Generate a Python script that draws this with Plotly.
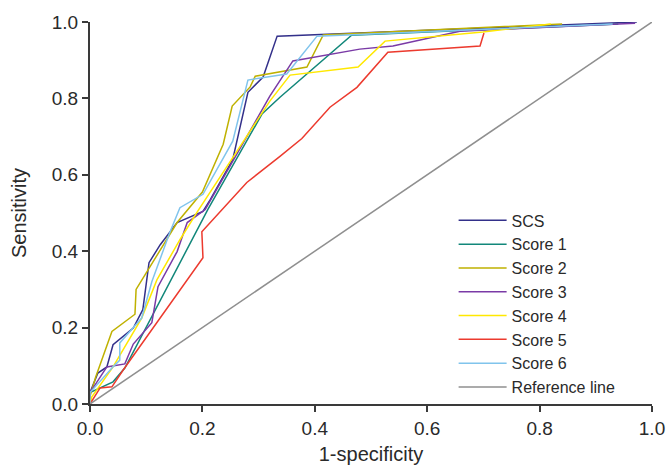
import plotly.graph_objects as go

names = ["SCS", "Score 1", "Score 2", "Score 3", "Score 4", "Score 5", "Score 6", "Reference line"]

scs_x = [0, 0, 0.014, 0.030, 0.041, 0.059, 0.077, 0.094, 0.105, 0.125, 0.155, 0.201, 0.214, 0.254, 0.281, 0.308, 0.333, 0.973]
scs_y = [0, 0.03, 0.081, 0.097, 0.155, 0.178, 0.199, 0.247, 0.370, 0.417, 0.475, 0.504, 0.535, 0.640, 0.816, 0.856, 0.963, 1.0]

s1_x = [0, 0, 0.041, 0.062, 0.21, 0.306, 0.338, 0.465, 0.94]
s1_y = [0, 0.03, 0.058, 0.094, 0.51, 0.759, 0.803, 0.965, 0.995]

s2_x = [0, 0, 0.01, 0.039, 0.08, 0.082, 0.155, 0.20, 0.237, 0.253, 0.285, 0.294, 0.386, 0.415, 0.84]
s2_y = [0, 0.02, 0.07, 0.19, 0.235, 0.30, 0.475, 0.555, 0.68, 0.78, 0.83, 0.858, 0.882, 0.966, 0.995]

s3_x = [0, 0, 0.030, 0.062, 0.077, 0.110, 0.121, 0.155, 0.173, 0.205, 0.320, 0.361, 0.480, 0.539, 0.658, 0.97]
s3_y = [0, 0.03, 0.097, 0.105, 0.157, 0.213, 0.307, 0.399, 0.475, 0.509, 0.806, 0.898, 0.929, 0.937, 0.976, 0.997]

s4_x = [0, 0.003, 0.041, 0.092, 0.119, 0.160, 0.190, 0.320, 0.356, 0.477, 0.525, 0.699, 0.82]
s4_y = [0, 0.018, 0.097, 0.225, 0.325, 0.430, 0.501, 0.793, 0.861, 0.882, 0.950, 0.974, 0.995]

s5_x = [0, 0.018, 0.039, 0.059, 0.201, 0.199, 0.279, 0.320, 0.338, 0.377, 0.427, 0.475, 0.530, 0.694, 0.701]
s5_y = [0, 0.042, 0.045, 0.089, 0.383, 0.451, 0.580, 0.627, 0.648, 0.695, 0.777, 0.829, 0.921, 0.937, 0.971]

s6_x = [0, 0, 0.039, 0.053, 0.053, 0.092, 0.110, 0.142, 0.160, 0.201, 0.254, 0.281, 0.350, 0.404, 0.93]
s6_y = [0, 0.03, 0.094, 0.115, 0.160, 0.225, 0.320, 0.449, 0.514, 0.549, 0.688, 0.848, 0.864, 0.963, 0.995]

ref_x = [0, 1]
ref_y = [0, 1]

tick_vals = [0, 0.2, 0.4, 0.6, 0.8, 1.0]
tick_text = ["0.0", "0.2", "0.4", "0.6", "0.8", "1.0"]

colors = ["#33308a", "#12877a", "#bfb100", "#7a3aa6", "#ffe800", "#ec3a2e", "#80c4ec", "#8f8f8f"]
xs = [scs_x, s1_x, s2_x, s3_x, s4_x, s5_x, s6_x, ref_x]
ys = [scs_y, s1_y, s2_y, s3_y, s4_y, s5_y, s6_y, ref_y]

fig = go.Figure()
for n, c, x, y in zip(names, colors, xs, ys):
    fig.add_trace(go.Scatter(x=x, y=y, mode="lines", name=n,
                             line=dict(color=c, width=1.5), cliponaxis=False))

font = "Liberation Sans, Arial, sans-serif"
axis_common = dict(
    range=[0, 1], tickvals=tick_vals, ticktext=tick_text, automargin=False,
    showgrid=False, zeroline=False, showline=True, linecolor="#3a3a3a", linewidth=2,
    ticks="outside", ticklen=6, tickwidth=1.5, tickcolor="#3a3a3a",
    tickfont=dict(family=font, size=19, color="#2a2a2a"),
)
fig.update_layout(
    width=667, height=465,
    margin=dict(l=90, r=15, t=22, b=61),
    paper_bgcolor="white", plot_bgcolor="white",
    xaxis=dict(title=dict(text="1-specificity", font=dict(family=font, size=20, color="#2a2a2a"), standoff=10), **axis_common),
    yaxis=dict(title=dict(text="Sensitivity", font=dict(family=font, size=20, color="#2a2a2a"), standoff=20), **axis_common),
    legend=dict(x=0.647, y=0.525, xanchor="left", yanchor="top", bgcolor="rgba(0,0,0,0)",
                font=dict(family=font, size=16, color="#2a2a2a"), itemwidth=48, tracegroupgap=0),
    showlegend=True,
)
fig.write_html("out.html", config={"displayModeBar": False},
               post_script="document.body.style.margin='0px';document.body.style.padding='0px';")
